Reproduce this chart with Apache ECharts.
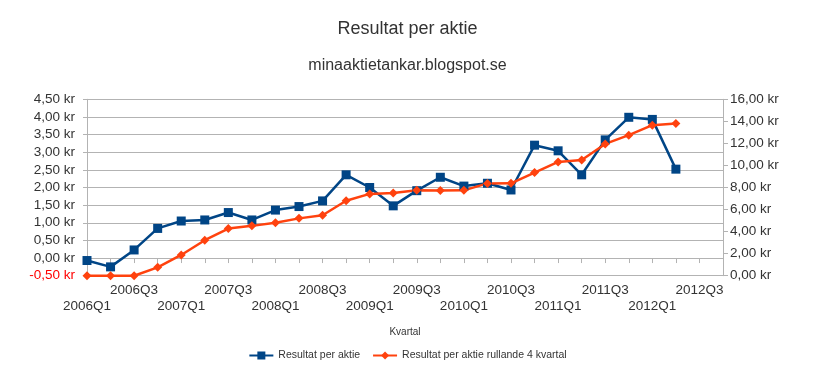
<!DOCTYPE html>
<html>
<head>
<meta charset="utf-8">
<script src="https://cdn.jsdelivr.net/npm/echarts@6/dist/echarts.min.js"></script>
<style>html,body{margin:0;padding:0;background:#fff}#c{width:815px;height:374px}</style>
</head>
<body>
<div id="c"></div>
<script>
var categories = ['2006Q1','2006Q2','2006Q3','2006Q4','2007Q1','2007Q2','2007Q3','2007Q4',
  '2008Q1','2008Q2','2008Q3','2008Q4','2009Q1','2009Q2','2009Q3','2009Q4',
  '2010Q1','2010Q2','2010Q3','2010Q4','2011Q1','2011Q2','2011Q3','2011Q4',
  '2012Q1','2012Q2','2012Q3','2012Q4'];
var resultat = [-0.07,-0.25,0.23,0.84,1.05,1.08,1.29,1.08,1.36,1.46,1.62,2.36,2.00,1.48,1.91,2.29,
  2.04,2.12,1.93,3.20,3.04,2.36,3.35,3.99,3.93,2.52];
var rullande = [0,0,0,0.76,1.88,3.22,4.28,4.52,4.81,5.20,5.48,6.80,7.42,7.50,7.76,7.72,
  7.74,8.37,8.38,9.35,10.32,10.50,11.95,12.75,13.65,13.80];
var seriesNames = ['Resultat per aktie','Resultat per aktie rullande 4 kvartal'];
var titleText = 'Resultat per aktie';
var subtitleText = 'minaaktietankar.blogspot.se';
var xName = 'Kvartal';

function kr(v){
  return v.toFixed(2).replace('.', ',') + ' kr';
}
var chart = echarts.init(document.getElementById('c'), null, {renderer:'canvas'});
var xLabelStyle = {fontSize:13.5, color:'#333'};
chart.setOption({
  animation:false,
  backgroundColor:'#fff',
  textStyle:{fontFamily:'Liberation Sans, Arial, sans-serif'},
  title:[
    {text:titleText, left:'center', top:15, textStyle:{fontSize:18, fontWeight:'normal', color:'#333'}},
    {text:subtitleText, left:'center', top:53, textStyle:{fontSize:16, fontWeight:'normal', color:'#333'}}
  ],
  legend:{
    bottom:8, left:'center', itemWidth:24, itemHeight:10, itemGap:12,
    textStyle:{fontSize:10.5, color:'#333'},
    data:seriesNames
  },
  grid:{left:87, right:92, top:99.3, bottom:98.3, containLabel:false},
  xAxis:[
    {
      type:'category', data:categories, boundaryGap:false, position:'bottom',
      name:xName, nameLocation:'middle', nameGap:52,
      nameTextStyle:{fontSize:10, color:'#333'},
      axisLine:{show:true, lineStyle:{color:'#b3b3b3'}},
      axisTick:{show:true, interval:0, length:5, lineStyle:{color:'#b3b3b3'}},
      axisLabel:{interval:function(i){ return i % 4 === 2; }, fontSize:xLabelStyle.fontSize,
        color:xLabelStyle.color, margin:8},
      splitLine:{show:false}
    },
    {
      type:'category', data:categories, boundaryGap:false, position:'bottom',
      axisLine:{show:false}, axisTick:{show:false},
      axisLabel:{interval:function(i){ return i % 4 === 0; }, fontSize:xLabelStyle.fontSize,
        color:xLabelStyle.color, margin:24},
      splitLine:{show:false}
    }
  ],
  yAxis:[
    {type:'value', min:-0.5, max:4.5, interval:0.5, position:'left',
      axisLine:{show:true, lineStyle:{color:'#b3b3b3'}},
      axisTick:{show:true, length:4, lineStyle:{color:'#b3b3b3'}},
      axisLabel:{fontSize:13.5, color:'#333', margin:12,
        formatter:function(v){ return v<0 ? '{neg|'+kr(v)+'}' : kr(v); },
        rich:{neg:{color:'#ff0000', fontSize:13.5}}},
      splitLine:{show:true, lineStyle:{color:'#b3b3b3'}}
    },
    {type:'value', min:0, max:16, interval:2, position:'right',
      axisLine:{show:true, lineStyle:{color:'#b3b3b3'}},
      axisTick:{show:true, length:5, lineStyle:{color:'#b3b3b3'}},
      axisLabel:{fontSize:13.5, color:'#333', margin:7, formatter:function(v){return kr(v);}},
      splitLine:{show:false}
    }
  ],
  series:[
    {name:seriesNames[0], type:'line', xAxisIndex:0, yAxisIndex:0, data:resultat,
      symbol:'rect', symbolSize:9, lineStyle:{width:2.5, color:'#004586'},
      itemStyle:{color:'#004586'}},
    {name:seriesNames[1], type:'line', xAxisIndex:0, yAxisIndex:1, data:rullande,
      symbol:'diamond', symbolSize:9, lineStyle:{width:2.5, color:'#ff420e'},
      itemStyle:{color:'#ff420e'}}
  ]
});
</script>
</body>
</html>
